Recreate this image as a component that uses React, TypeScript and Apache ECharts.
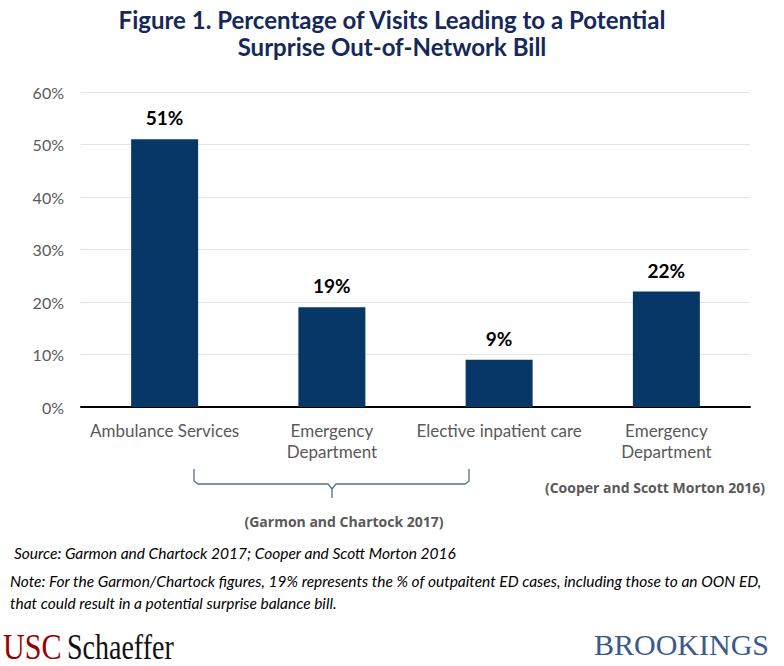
import React, { useEffect, useRef } from "react";
import * as echarts from "echarts";

const categories = ["Ambulance Services", "Emergency\nDepartment", "Elective inpatient care", "Emergency\nDepartment"];
const values = [51, 19, 9, 22];
const yTicks = [0, 10, 20, 30, 40, 50, 60];

const titleLines = ["Figure 1. Percentage of Visits Leading to a Potential", "Surprise Out-of-Network Bill"];
const sourceText = "Source: Garmon and Chartock 2017; Cooper and Scott Morton 2016";
const noteLines = [
  "Note: For the Garmon/Chartock figures, 19% represents the % of outpaitent ED cases, including those to an OON ED,",
  "that could result in a potential surprise balance bill.",
];
const groupLabels = ["(Garmon and Chartock 2017)", "(Cooper and Scott Morton 2016)"];

export default function App() {
  const ref = useRef<HTMLDivElement>(null);
  useEffect(() => {
    if (!ref.current) return;
    const chart = echarts.init(ref.current, null, { renderer: "svg" });
    const font = "Lato, 'Open Sans', sans-serif";
    const serif = "'Liberation Serif', 'DejaVu Serif', serif";
    const bracketColor = "#4d7099";
    chart.setOption({
      animation: false,
      backgroundColor: "#ffffff",
      title: {
        text: titleLines.join("\n"),
        left: "center",
        top: 1,
        textStyle: {
          fontFamily: font,
          fontWeight: "bold",
          fontSize: 24,
          lineHeight: 27,
          color: "#14285c",
        },
      },
      grid: { left: 81, top: 92, width: 669, height: 315, containLabel: false },
      xAxis: {
        type: "category",
        data: categories,
        axisLine: { show: true, lineStyle: { color: "#000000", width: 2 } },
        axisTick: { show: false },
        axisLabel: {
          color: "#595959",
          fontFamily: font,
          fontSize: 17,
          lineHeight: 21,
          margin: 13,
          interval: 0,
        },
      },
      yAxis: {
        type: "value",
        min: 0,
        max: 60,
        interval: 10,
        axisLine: { show: false },
        axisTick: { show: false },
        splitLine: { lineStyle: { color: "#e4e4e4", width: 1 } },
        axisLabel: {
          formatter: (v: number) => (yTicks.includes(v) ? v + "%" : ""),
          color: "#595959",
          fontFamily: font,
          fontSize: 16,
          margin: 17,
        },
      },
      series: [
        {
          type: "bar",
          data: values,
          barWidth: 67,
          itemStyle: { color: "#063767" },
          label: {
            show: true,
            position: "top",
            distance: 12,
            formatter: (p: any) => p.value + "%",
            color: "#000000",
            fontFamily: font,
            fontWeight: "bold",
            fontSize: 19,
          },
        },
      ],
      graphic: [
        {
          type: "polyline",
          shape: {
            points: [
              [194, 469],
              [194, 481],
              [198, 484],
              [328, 484],
              [332, 489],
              [332, 498],
            ],
          },
          style: { stroke: bracketColor, lineWidth: 1.3, fill: "none" },
        },
        {
          type: "polyline",
          shape: {
            points: [
              [469, 469],
              [469, 481],
              [465, 484],
              [336, 484],
              [332, 489],
            ],
          },
          style: { stroke: bracketColor, lineWidth: 1.3, fill: "none" },
        },
        {
          type: "text",
          x: 344,
          y: 521,
          style: {
            text: groupLabels[0],
            align: "center",
            verticalAlign: "middle",
            fontFamily: "'Open Sans', sans-serif",
            fontWeight: "bold",
            fontSize: 14,
            fill: "#595959",
          },
        },
        {
          type: "text",
          x: 655,
          y: 487,
          style: {
            text: groupLabels[1],
            align: "center",
            verticalAlign: "middle",
            fontFamily: "'Open Sans', sans-serif",
            fontWeight: "bold",
            fontSize: 14,
            fill: "#595959",
          },
        },
        {
          type: "text",
          x: 14,
          y: 553,
          style: {
            text: sourceText,
            verticalAlign: "middle",
            fontFamily: font,
            fontStyle: "italic",
            fontSize: 15.5,
            fill: "#000000",
          },
        },
        {
          type: "text",
          x: 10,
          y: 581,
          style: {
            text: noteLines[0],
            verticalAlign: "middle",
            fontFamily: font,
            fontStyle: "italic",
            fontSize: 15.5,
            fill: "#000000",
          },
        },
        {
          type: "text",
          x: 10,
          y: 603,
          style: {
            text: noteLines[1],
            verticalAlign: "middle",
            fontFamily: font,
            fontStyle: "italic",
            fontSize: 15.5,
            fill: "#000000",
          },
        },
        {
          type: "text",
          x: 3,
          y: 647.5,
          scaleX: 0.86,
          style: {
            text: "USC",
            verticalAlign: "middle",
            fontFamily: serif,
            fontSize: 35,
            fill: "#990000",
          },
        },
        {
          type: "text",
          x: 67,
          y: 647.5,
          scaleX: 0.8,
          style: {
            text: "Schaeffer",
            verticalAlign: "middle",
            fontFamily: serif,
            fontSize: 35,
            fill: "#111111",
          },
        },
        {
          type: "text",
          x: 769,
          y: 644,
          style: {
            text: "BROOKINGS",
            align: "right",
            verticalAlign: "middle",
            fontFamily: serif,
            fontSize: 30,
            fill: "#3a5a8c",
          },
        },
      ],
    });
    return () => chart.dispose();
  }, []);
  return <div ref={ref} style={{ width: 784, height: 666, position: "absolute", left: 0, top: 0 }} />;
}
